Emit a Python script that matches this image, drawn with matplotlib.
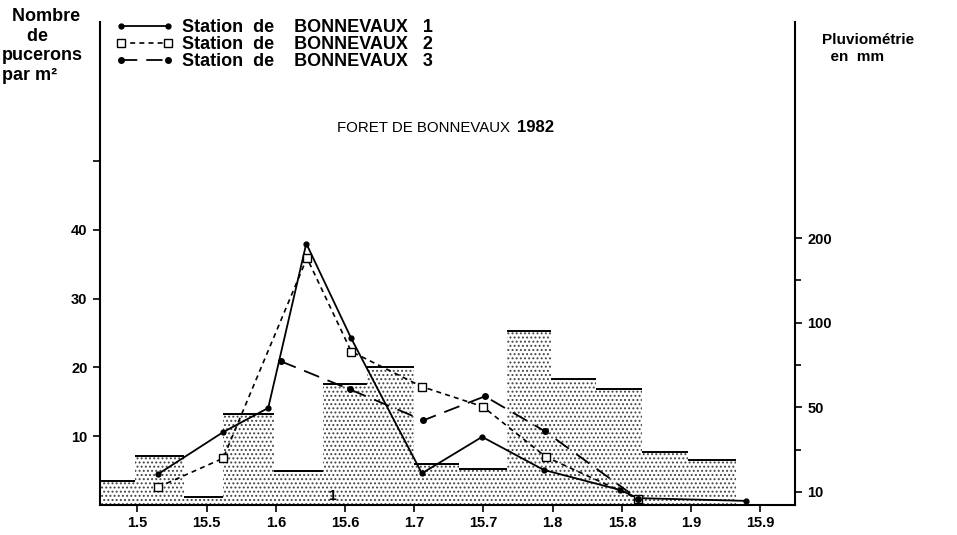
import numpy as np
import matplotlib
matplotlib.use("Agg")
import matplotlib.pyplot as plt

plt.rcParams["font.family"] = ["Liberation Sans", "DejaVu Sans"]
plt.rcParams["hatch.linewidth"] = 0.9

# x axis: one tick per half month, evenly spaced
date_labels = ["1.5", "15.5", "1.6", "15.6", "1.7", "15.7", "1.8", "15.8", "1.9", "15.9"]

# aphid counts (pucerons par m2), x in tick units
st1_x = [0.30, 1.24, 1.89, 2.44, 3.09, 4.11, 4.98, 5.87, 6.97, 7.23, 8.79]
st1_y = [4.5, 10.6, 14.1, 38.0, 24.2, 4.6, 9.9, 5.1, 2.2, 1.0, 0.6]

st2_x = [0.30, 1.24, 2.45, 3.09, 4.11, 4.99, 5.90, 7.23]
st2_y = [2.6, 6.8, 35.9, 22.3, 17.2, 14.3, 7.0, 0.9]

st3_x = [2.07, 3.07, 4.13, 5.02, 5.89, 7.23]
st3_y = [20.9, 16.8, 12.3, 15.8, 10.7, 0.9]

# rainfall (mm) per period, bar edges in tick units
rain_edges = [-0.54, -0.04, 0.67, 1.24, 1.97, 2.68, 3.32, 3.99, 4.64,
              5.34, 5.98, 6.63, 7.29, 7.95, 8.65]
rain_mm = [15, 27, 6, 47, 20, 64, 74, 23, 21, 95, 67, 61, 29, 25]

# the rainfall axis is drawn with equal steps between 10, 50, 100, 200
rain_marks = [0, 10, 50, 100, 200, 400, 800]
rain_pos = [0, 1.9, 14.2, 26.5, 38.8, 63.4, 112.6]


def rain_forward(v):
    return np.interp(v, rain_marks, rain_pos)


def rain_inverse(p):
    return np.interp(p, rain_pos, rain_marks)


fig = plt.figure(figsize=(9.57, 5.35), dpi=100)
ax = fig.add_axes([100 / 957, 30 / 535, 695 / 957, 483 / 535])
ax2 = ax.twinx()
ax.set_zorder(2)
ax.patch.set_visible(False)

ymax = 70.2
ax.set_xlim(-0.54, 9.50)
ax.set_ylim(0, ymax)

# rainfall bars on the right axis
ax2.set_yscale("function", functions=(rain_forward, rain_inverse))
ax2.set_ylim(0, float(rain_inverse(ymax)))
lefts = rain_edges[:-1]
widths = np.diff(rain_edges)
ax2.bar(lefts, rain_mm, width=widths, align="edge", facecolor="white",
        edgecolor="#444444", linewidth=0, hatch="....")
ax2.hlines(rain_mm, lefts, rain_edges[1:], color="black", linewidth=1.4)
ax2.set_yticks([10, 50, 100, 200])
ax2.set_yticklabels(["10", "50", "100", "200"])
ax2.set_yticks([30, 75, 150], minor=True)

# aphid series
ax.plot(st1_x, st1_y, color="black", linewidth=1.3, marker="o", markersize=3.5,
        label="Station  de    BONNEVAUX   1")
ax.plot(st2_x, st2_y, color="black", linewidth=1.2, linestyle=(0, (3, 2.5)),
        marker="s", markersize=5.5, markerfacecolor="white",
        label="Station  de    BONNEVAUX   2")
ax.plot(st3_x, st3_y, color="black", linewidth=1.3, linestyle=(0, (9, 5)),
        marker="o", markersize=4, label="Station  de    BONNEVAUX   3")

ax.set_xticks(range(len(date_labels)))
ax.set_xticklabels(date_labels)
ax.set_yticks([10, 20, 30, 40, 50])
ax.set_yticklabels(["10", "20", "30", "40", ""])

for a in (ax, ax2):
    a.spines["top"].set_visible(False)
    for s in a.spines.values():
        s.set_linewidth(1.5)
    a.tick_params(axis="both", which="both", direction="out", width=1.2,
                  labelsize=10.5)
    a.tick_params(axis="both", which="major", length=5, pad=4)
    a.tick_params(axis="both", which="minor", length=4)
    for lab in a.get_xticklabels() + a.get_yticklabels():
        lab.set_fontweight("bold")
ax2.spines["left"].set_visible(False)
ax2.spines["bottom"].set_visible(False)
ax.spines["right"].set_visible(False)
ax.tick_params(axis="x", pad=3)

ax.text(2.81, 0.3, "1", ha="center", va="bottom", fontsize=10, fontweight="bold")

fig.legend(loc="upper left", bbox_to_anchor=(116 / 957, 1 - 19 / 535),
           frameon=False, prop={"weight": "bold", "size": 13},
           numpoints=2, handlelength=3.2, handletextpad=0.45,
           labelspacing=0.0, borderpad=0, borderaxespad=0)

fig.text(2 / 957, 1 - 8 / 535, "  Nombre\n     de\npucerons\npar m²", ha="left",
         va="top", fontsize=13, fontweight="bold", linespacing=1.2)
fig.text(822 / 957, 1 - 33 / 535, "Pluviométrie\n  en  mm", ha="left",
         va="top", fontsize=11, fontweight="bold", linespacing=1.25)
fig.text(337 / 957, 1 - 128 / 535, "FORET DE BONNEVAUX", ha="left",
         va="center", fontsize=10.8)
fig.text(517 / 957, 1 - 128 / 535, "1982", ha="left", va="center",
         fontsize=12, fontweight="bold")

fig.savefig("out.png", dpi=100)
